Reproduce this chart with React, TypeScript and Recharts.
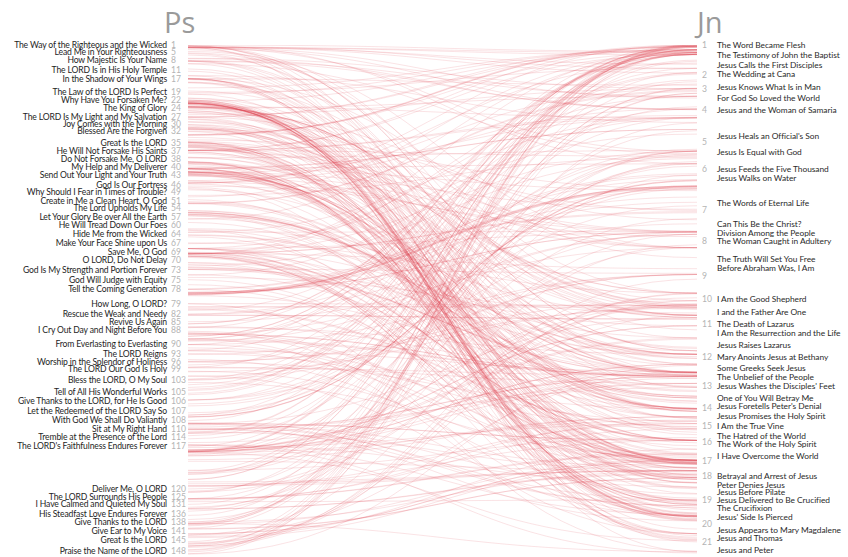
import React from 'react';
import { LineChart, Line, XAxis, YAxis } from 'recharts';

// Verses per chapter (Psalms, John)
const psVerseCounts = [
  6, 12, 8, 8, 12, 10, 17, 9, 20, 18,
  7, 8, 6, 7, 5, 11, 15, 50, 14, 9,
  13, 31, 6, 10, 22, 12, 14, 9, 11, 12,
  24, 11, 22, 22, 28, 12, 40, 22, 13, 17,
  13, 11, 5, 26, 17, 11, 9, 14, 20, 23,
  19, 9, 6, 7, 23, 13, 11, 11, 17, 12,
  8, 12, 11, 10, 13, 20, 7, 35, 36, 5,
  24, 20, 28, 23, 10, 12, 20, 72, 13, 19,
  16, 8, 18, 12, 13, 17, 7, 18, 52, 17,
  16, 15, 5, 23, 11, 13, 12, 9, 9, 5,
  8, 28, 22, 35, 45, 48, 43, 13, 31, 7,
  10, 10, 9, 8, 18, 19, 2, 29, 176, 7,
  8, 9, 4, 8, 5, 6, 5, 6, 8, 8,
  3, 18, 3, 3, 21, 26, 9, 8, 24, 13,
  10, 7, 12, 15, 21, 10, 20, 14, 9, 6,
];
const jnVerseCounts = [51, 25, 36, 54, 47, 71, 53, 59, 41, 42, 57, 50, 38, 31, 27, 33, 26, 40, 42, 31, 25];

// Left axis headings (chapter, title)
const psHeadingChapters = [1, 5, 8, 11, 17, 19, 22, 24, 27, 30, 32, 35, 37, 38, 40, 43, 46, 49, 51, 54, 57, 60, 64, 67, 69, 70, 73, 75, 78, 79, 82, 85, 88, 90, 93, 96, 99, 103, 105, 106, 107, 108, 110, 114, 117, 120, 125, 131, 136, 138, 141, 145, 148];
const psHeadingTitles = [
  'The Way of the Righteous and the Wicked', 'Lead Me in Your Righteousness', 'How Majestic Is Your Name',
  'The LORD Is in His Holy Temple', 'In the Shadow of Your Wings', 'The Law of the LORD Is Perfect',
  'Why Have You Forsaken Me?', 'The King of Glory', 'The LORD Is My Light and My Salvation',
  'Joy Comes with the Morning', 'Blessed Are the Forgiven', 'Great Is the LORD',
  'He Will Not Forsake His Saints', 'Do Not Forsake Me, O LORD', 'My Help and My Deliverer',
  'Send Out Your Light and Your Truth', 'God Is Our Fortress', 'Why Should I Fear in Times of Trouble?',
  'Create in Me a Clean Heart, O God', 'The Lord Upholds My Life', 'Let Your Glory Be over All the Earth',
  'He Will Tread Down Our Foes', 'Hide Me from the Wicked', 'Make Your Face Shine upon Us',
  'Save Me, O God', 'O LORD, Do Not Delay', 'God Is My Strength and Portion Forever',
  'God Will Judge with Equity', 'Tell the Coming Generation', 'How Long, O LORD?',
  'Rescue the Weak and Needy', 'Revive Us Again', 'I Cry Out Day and Night Before You',
  'From Everlasting to Everlasting', 'The LORD Reigns', 'Worship in the Splendor of Holiness',
  'The LORD Our God Is Holy', 'Bless the LORD, O My Soul', 'Tell of All His Wonderful Works',
  'Give Thanks to the LORD, for He Is Good', 'Let the Redeemed of the LORD Say So', 'With God We Shall Do Valiantly',
  'Sit at My Right Hand', 'Tremble at the Presence of the Lord', "The LORD's Faithfulness Endures Forever",
  'Deliver Me, O LORD', 'The LORD Surrounds His People', 'I Have Calmed and Quieted My Soul',
  'His Steadfast Love Endures Forever', 'Give Thanks to the LORD', 'Give Ear to My Voice',
  'Great Is the LORD', 'Praise the Name of the LORD',
];

// Right axis headings (reference, title)
const jnHeadingRefs = [
  '1:1', '1:19', '1:35', '2:1', '2:23', '3:16', '4:1', '4:46', '5:19', '6:1', '6:16', '6:60',
  '7:25', '7:40', '8:1', '8:31', '8:48', '10:1', '10:22', '11:1', '11:17', '11:38', '12:1',
  '12:20', '12:36', '13:1', '13:21', '13:36', '14:15', '15:1', '15:18', '16:4', '16:25',
  '18:1', '18:15', '18:28', '19:1', '19:16', '19:31', '20:11', '20:24', '21:15',
];
const jnHeadingTitles = [
  'The Word Became Flesh', 'The Testimony of John the Baptist', 'Jesus Calls the First Disciples',
  'The Wedding at Cana', 'Jesus Knows What Is in Man', 'For God So Loved the World',
  'Jesus and the Woman of Samaria', "Jesus Heals an Official's Son", 'Jesus Is Equal with God',
  'Jesus Feeds the Five Thousand', 'Jesus Walks on Water', 'The Words of Eternal Life',
  'Can This Be the Christ?', 'Division Among the People', 'The Woman Caught in Adultery',
  'The Truth Will Set You Free', 'Before Abraham Was, I Am', 'I Am the Good Shepherd',
  'I and the Father Are One', 'The Death of Lazarus', 'I Am the Resurrection and the Life',
  'Jesus Raises Lazarus', 'Mary Anoints Jesus at Bethany', 'Some Greeks Seek Jesus',
  'The Unbelief of the People', "Jesus Washes the Disciples' Feet", 'One of You Will Betray Me',
  "Jesus Foretells Peter's Denial", 'Jesus Promises the Holy Spirit', 'I Am the True Vine',
  'The Hatred of the World', 'The Work of the Holy Spirit', 'I Have Overcome the World',
  'Betrayal and Arrest of Jesus', 'Peter Denies Jesus', 'Jesus Before Pilate',
  'Jesus Delivered to Be Crucified', 'The Crucifixion', "Jesus' Side Is Pierced",
  'Jesus Appears to Mary Magdalene', 'Jesus and Thomas', 'Jesus and Peter',
];

// Cross references: "Psalm ch:v > John ch:v"
const links = [
  '1:1>1:12', '1:2>5:39', '1:3>15:5', '1:6>10:14',
  '2:1>11:47', '2:2>1:41', '2:2>11:47', '2:6>1:49', '2:7>1:14', '2:7>1:18', '2:7>1:34', '2:7>3:16', '2:7>5:18', '2:8>17:2', '2:12>3:36', '2:7>20:31',
  '3:5>11:11', '4:6>8:12', '5:5>9:31', '5:8>14:6', '6:3>12:27', '7:9>2:25', '7:11>3:36',
  '8:2>12:13', '8:4>3:13', '8:6>3:35', '8:6>13:3', '8:6>17:2', '9:8>5:22', '9:10>17:3', '10:14>14:18',
  '11:7>17:24', '14:7>4:22', '15:1>14:2',
  '16:8>8:29', '16:9>20:20', '16:10>2:19', '16:10>20:9', '16:11>14:6', '16:11>15:11', '16:11>17:13',
  '17:3>21:17', '17:15>17:24',
  '18:2>10:28', '18:4>18:12', '18:28>1:9', '18:43>10:16', '18:50>1:41',
  '19:7>17:17', '19:8>1:9', '21:4>11:25', '21:5>17:5',
  '22:1>16:32', '22:1>19:28', '22:6>1:11', '22:7>19:29', '22:8>19:7', '22:12>18:3', '22:13>18:12', '22:14>19:34', '22:15>19:28', '22:16>19:18', '22:16>19:37', '22:16>20:25', '22:16>20:27', '22:17>19:35', '22:18>19:23', '22:18>19:24', '22:22>17:6', '22:22>20:17', '22:27>12:32', '22:31>19:30',
  '22:1>19:30', '22:7>19:3', '22:11>16:32', '22:15>19:30', '22:18>19:2',
  '23:1>10:11', '23:1>10:14', '23:2>10:9', '23:2>4:14', '23:3>10:3', '23:4>10:28', '23:5>12:3', '23:6>14:2',
  '24:3>3:13', '24:7>12:13',
  '25:5>14:6', '25:5>16:13', '25:14>15:15', '25:14>7:17', '26:2>2:25',
  '27:1>1:4', '27:1>1:9', '27:1>8:12', '27:2>18:6', '27:10>14:18', '27:12>18:30', '28:9>10:28', '29:3>12:29',
  '30:3>11:43', '30:5>16:20', '30:11>16:22',
  '31:5>19:30', '31:5>10:18', '31:9>12:27', '31:11>16:32', '31:13>11:53', '31:13>7:1', '31:15>13:1', '31:22>11:41',
  '32:1>20:23', '33:4>1:14', '33:6>1:1', '33:6>1:3', '33:9>1:3', '33:18>9:31',
  '34:8>6:35', '34:15>9:31', '34:18>16:33', '34:19>16:33', '34:20>19:33', '34:20>19:36', '34:22>10:28',
  '35:4>18:6', '35:7>15:25', '35:11>18:19', '35:12>10:32', '35:15>18:22', '35:16>19:3', '35:19>15:25', '35:21>19:15', '35:23>20:28',
  '36:5>1:17', '36:9>1:4', '36:9>4:10', '36:9>4:14', '36:9>7:37', '36:9>8:12', '36:9>5:26',
  '37:4>15:7', '37:5>14:1', '37:11>14:27', '37:29>14:2', '37:32>5:16', '37:32>11:53',
  '38:11>16:32', '38:11>19:25', '38:12>11:53', '38:13>19:9', '38:14>19:9', '38:19>15:25', '38:20>10:32', '39:1>19:9', '39:9>18:11',
  '40:6>4:34', '40:7>5:39', '40:8>4:34', '40:8>6:38', '40:8>17:4', '40:9>18:20', '40:10>17:6', '40:10>17:26', '40:12>12:27', '40:14>18:6',
  '41:5>11:53', '41:6>13:30', '41:9>6:70', '41:9>13:18', '41:9>13:21', '41:9>13:26', '41:9>17:12', '41:9>18:2',
  '42:2>4:14', '42:2>7:37', '42:5>12:27', '42:6>12:27', '42:6>14:1', '42:9>16:32', '42:11>14:1', '43:3>8:12', '43:3>14:6',
  '44:21>2:25', '44:22>16:2', '45:2>7:46', '45:6>1:1', '45:7>1:32', '45:7>3:34', '45:11>12:3',
  '46:4>7:38', '46:10>17:4', '47:5>20:17', '48:2>12:15', '49:15>5:28', '50:2>1:14', '50:15>16:23',
  '51:2>13:8', '51:7>13:10', '51:10>3:3', '51:11>14:16', '51:12>3:5',
  '55:4>12:27', '55:5>13:21', '55:12>13:18', '55:13>13:21', '55:14>13:18', '55:15>13:27', '55:21>13:2', '55:22>14:1', '55:23>17:12',
  '56:5>11:53', '56:6>18:3', '57:5>12:28', '57:10>1:17', '59:3>15:25',
  '61:4>10:28', '62:1>14:1', '62:4>19:15', '63:1>4:13', '63:1>7:37', '64:2>11:47', '64:5>11:57', '65:2>17:2', '66:18>9:31', '67:2>4:42',
  '68:18>3:13', '68:18>7:39', '68:18>14:16', '68:18>16:7', '68:18>20:17', '68:20>11:25',
  '69:1>12:27', '69:4>15:24', '69:4>15:25', '69:7>8:48', '69:8>1:11', '69:8>7:3', '69:8>7:5', '69:9>2:17', '69:9>5:18', '69:9>15:24', '69:12>18:38', '69:14>17:1', '69:19>19:5', '69:20>16:32', '69:21>19:28', '69:21>19:29', '69:26>19:1',
  '71:10>11:53', '71:11>16:32', '71:19>17:4', '72:2>5:30', '72:8>12:32', '72:11>12:32', '72:17>8:56', '72:19>11:4', '72:19>12:28',
  '73:24>14:3', '73:26>4:14', '74:9>10:24', '74:20>18:3', '76:11>17:4', '77:19>6:19',
  '78:2>16:25', '78:2>6:30', '78:15>7:38', '78:16>7:38', '78:18>6:30', '78:19>6:9', '78:20>6:30', '78:24>6:31', '78:24>6:32', '78:24>6:49', '78:25>6:33', '78:25>6:58', '78:29>6:12', '78:32>12:37', '78:70>10:11', '78:71>21:16',
  '80:1>10:11', '80:1>10:14', '80:8>15:1', '80:14>15:2', '80:17>3:13', '81:16>6:35',
  '82:2>7:24', '82:6>10:34', '82:6>10:35', '84:11>8:12', '85:9>1:14', '85:10>1:17', '86:9>12:32', '86:14>11:53', '86:15>1:14', '88:8>16:32', '88:14>19:28', '88:18>16:32',
  '89:3>12:34', '89:4>7:42', '89:4>12:34', '89:14>1:14', '89:14>1:17', '89:26>20:17', '89:27>1:49', '89:27>3:35', '89:29>12:34', '89:36>7:42', '89:36>12:34',
  '90:2>1:1', '90:2>8:58', '90:2>17:5', '91:1>14:23', '91:11>1:51', '91:14>17:6', '91:15>12:26', '92:12>15:5', '93:2>8:58', '94:21>18:31',
  '95:7>10:3', '95:7>10:16', '95:11>14:2', '96:13>5:22', '97:11>1:9', '97:11>12:46', '98:2>12:32', '99:9>17:11', '100:3>10:14',
  '102:9>19:29', '102:12>8:58', '102:25>1:3', '102:27>8:58', '103:3>5:14', '103:13>16:27', '104:2>1:5', '104:15>2:10', '104:24>1:3', '104:30>1:3',
  '105:8>1:17', '105:15>1:41', '105:40>6:31', '105:41>4:14', '105:41>7:38', '106:14>6:30', '106:24>6:64',
  '107:9>6:35', '107:20>1:1', '107:20>5:24', '107:28>6:20', '107:29>6:21', '107:30>6:21', '108:4>1:17',
  '109:2>18:19', '109:3>15:25', '109:4>15:25', '109:5>10:32', '109:7>19:11', '109:8>17:12', '109:16>19:1', '109:25>19:37', '109:31>19:11',
  '110:1>12:34', '110:1>13:3', '110:4>12:34', '111:7>17:17', '111:9>1:17', '112:4>1:9', '112:4>12:46', '113:5>3:31', '115:3>5:17', '116:3>12:27', '116:13>18:11', '116:15>21:19', '116:16>19:26', '117:2>1:17',
  '118:6>14:27', '118:17>11:4', '118:17>11:25', '118:18>11:4', '118:20>10:9', '118:22>1:11', '118:22>12:37', '118:25>12:13', '118:26>1:27', '118:26>5:43', '118:26>11:27', '118:26>12:13', '118:27>1:9', '118:27>12:46',
  '119:2>14:21', '119:2>20:29', '119:11>5:38', '119:15>14:15', '119:18>9:39', '119:35>14:15', '119:43>17:17', '119:86>15:20', '119:89>1:1', '119:97>5:39', '119:99>7:15', '119:105>1:9', '119:105>8:12', '119:130>1:5', '119:130>1:9', '119:142>17:17', '119:151>17:17', '119:160>17:17', '119:161>15:25', '119:165>14:27', '119:176>10:11',
  '121:4>5:17', '121:8>10:9', '122:1>2:13', '126:5>16:20', '126:6>4:36', '126:6>16:22', '127:1>15:5', '128:1>14:23', '129:3>19:1', '130:8>1:29',
  '132:11>7:42', '132:17>5:35', '133:1>17:21', '133:1>17:23', '135:6>5:17', '136:5>1:3', '136:25>6:11', '138:2>1:14', '138:2>17:17',
  '139:1>2:25', '139:1>21:17', '139:2>1:48', '139:4>16:30', '139:7>3:8', '139:12>1:5', '139:23>2:24', '140:2>18:3', '140:4>18:3', '142:3>16:32', '142:4>16:32', '143:2>8:7', '143:4>12:27', '143:10>16:13', '144:3>17:3',
  '145:7>1:16', '145:13>10:28', '145:18>4:23', '145:19>9:31', '146:6>1:3', '146:8>9:7', '146:8>9:32', '147:4>10:3', '147:15>1:1', '147:18>3:8', '148:5>1:3', '148:14>1:14', '149:2>12:15',
];

// ---- helpers: reference -> relative position in book (per mille)
const cumulative = (counts: number[]) => {
  const out = [0];
  counts.forEach((c) => out.push(out[out.length - 1] + c));
  return out;
};
const psCum = cumulative(psVerseCounts);
const jnCum = cumulative(jnVerseCounts);
const psTotal = psCum[psCum.length - 1];
const jnTotal = jnCum[jnCum.length - 1];
const psPos = (ch: number, v: number) => ((psCum[ch - 1] + v - 1) / psTotal) * 1000;
const jnPos = (ch: number, v: number) => ((jnCum[ch - 1] + v - 1) / jnTotal) * 1000;
const parseRef = (s: string) => s.split(':').map(Number);

const linkData = links.map((s) => {
  const [a, b] = s.split('>');
  const [pc, pv] = parseRef(a);
  const [jc, jv] = parseRef(b);
  return [
    { x: 0, y: psPos(pc, pv) },
    { x: 1, y: jnPos(jc, jv) },
  ];
});

const key = (v: number) => v.toFixed(4);

const psTickInfo = new Map<string, { ch: number; title: string }>();
const psTicks = psHeadingChapters.map((ch, i) => {
  const p = psPos(ch, 1);
  psTickInfo.set(key(p), { ch, title: psHeadingTitles[i] });
  return p;
});

const jnTickInfo = new Map<string, { ch?: number; title?: string }>();
jnVerseCounts.forEach((_, i) => {
  const p = jnPos(i + 1, 1);
  const k = key(p);
  jnTickInfo.set(k, { ...(jnTickInfo.get(k) || {}), ch: i + 1 });
});
jnHeadingRefs.forEach((r, i) => {
  const [c, v] = parseRef(r);
  const p = jnPos(c, v);
  const k = key(p);
  jnTickInfo.set(k, { ...(jnTickInfo.get(k) || {}), title: jnHeadingTitles[i] });
});
const jnTicks = Array.from(jnTickInfo.keys()).map(Number).sort((a, b) => a - b);

const LABEL_FONT = 'Lato, "Open Sans", sans-serif';

const PsTick = (props: any) => {
  const { y, payload } = props;
  const info = psTickInfo.get(key(payload.value));
  if (!info) return null;
  return (
    <g>
      <text x={167} y={y} dy="0.33em" textAnchor="end" fontSize={8.6} fill="#1e1e1e" fontFamily={LABEL_FONT} letterSpacing={-0.15}>
        {info.title}
      </text>
      <text x={171} y={y} dy="0.33em" textAnchor="start" fontSize={8.6} fill="#b4b4b4" fontFamily={LABEL_FONT}>
        {info.ch}
      </text>
    </g>
  );
};

const JnTick = (props: any) => {
  const { y, payload } = props;
  const info = jnTickInfo.get(key(payload.value));
  if (!info) return null;
  return (
    <g>
      {info.ch !== undefined && (
        <text x={702} y={y} dy="0.33em" textAnchor="start" fontSize={8.6} fill="#b4b4b4" fontFamily={LABEL_FONT}>
          {info.ch}
        </text>
      )}
      {info.title && (
        <text x={717} y={y} dy="0.33em" textAnchor="start" fontSize={8.4} fill="#2a2a2a" fontFamily={LABEL_FONT} letterSpacing={-0.05}>
          {info.title}
        </text>
      )}
    </g>
  );
};

export default function App() {
  return (
    <div style={{ position: 'absolute', left: 0, top: 0, width: 848, height: 557, overflow: 'hidden', background: '#fff' }}>
      <LineChart width={848} height={557} margin={{ top: 45, right: 0, bottom: 0, left: 0 }}>
        <XAxis type="number" dataKey="x" domain={[0, 1]} hide allowDataOverflow />
        <YAxis
          yAxisId="ps"
          orientation="left"
          type="number"
          domain={[0, 1000]}
          reversed
          allowDataOverflow
          ticks={psTicks}
          interval={0}
          width={188}
          axisLine={false}
          tickLine={false}
          tick={<PsTick />}
        />
        <YAxis
          yAxisId="jn"
          orientation="right"
          type="number"
          domain={[0, 1000]}
          reversed
          allowDataOverflow
          ticks={jnTicks}
          interval={0}
          width={151}
          axisLine={false}
          tickLine={false}
          tick={<JnTick />}
        />
        {linkData.map((d, i) => (
          <Line
            key={i}
            yAxisId="ps"
            data={d}
            dataKey="y"
            type="bumpX"
            stroke="#dc4050"
            strokeOpacity={0.15}
            strokeWidth={1}
            dot={false}
            activeDot={false}
            isAnimationActive={false}
          />
        ))}
      </LineChart>
      <svg width={848} height={45} style={{ position: 'absolute', left: 0, top: 0, pointerEvents: 'none' }}>
        <text x={164} y={33} fontSize={29} fill="#9a9a9a" fontFamily='"Open Sans", sans-serif'>Ps</text>
        <text x={697} y={33} fontSize={29} fill="#9a9a9a" fontFamily='"Open Sans", sans-serif'>Jn</text>
      </svg>
    </div>
  );
}
